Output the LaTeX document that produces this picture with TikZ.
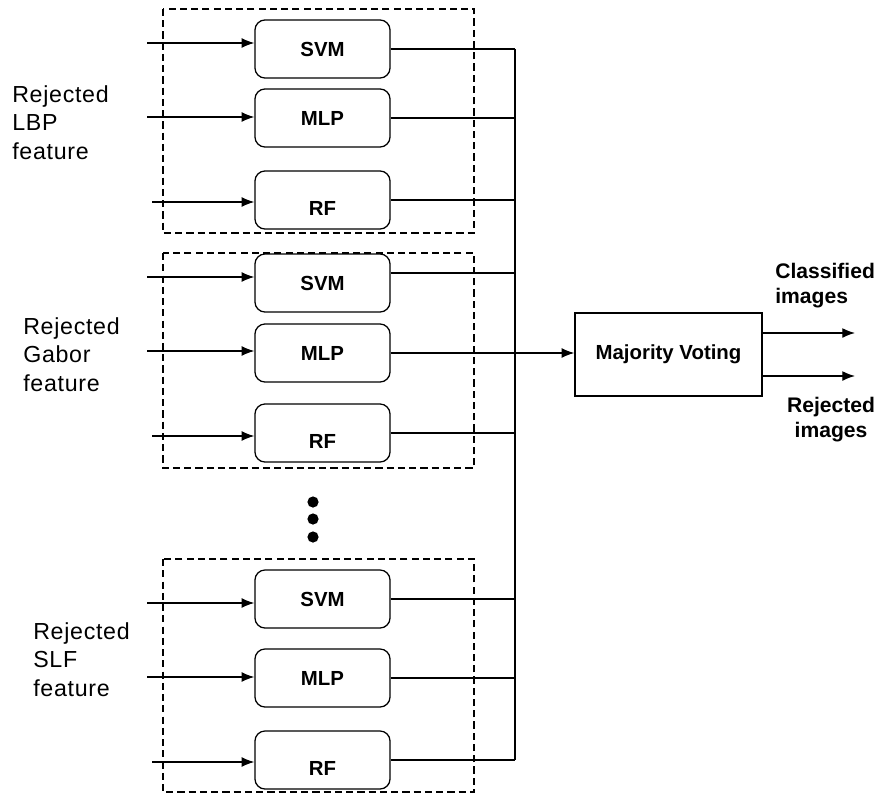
\documentclass[tikz,border=0pt]{standalone}
\usepackage{fontspec}
\setmainfont{Liberation Sans}
\usetikzlibrary{arrows.meta}

\tikzset{
  clf/.style={draw, rounded corners=0.25cm, line width=0.9pt, minimum width=3.375cm, minimum height=1.45cm, font=\bfseries\fontsize{14.5}{17}\selectfont},
  rfclf/.style={clf, text height=0.77cm},
  group/.style={draw, dash pattern=on 5pt off 3pt, line width=1.4pt},
  wire/.style={line width=0.9pt},
  feed/.style={wire, -{Latex[length=9pt,width=7pt]}},
  sidetext/.style={anchor=north west, inner sep=0pt, align=left, font=\fontsize{16.5}{20.5}\selectfont\addfontfeatures{LetterSpace=3}},
  outtext/.style={inner sep=0pt, font=\bfseries\fontsize{15}{17.5}\selectfont},
}

\begin{document}
\begin{tikzpicture}[x=0.025cm, y=-0.025cm]
			%%%%% START %%%%%
			\useasboundingbox (0,0) rectangle (881,795);
			\def\cx{322.5}
			\def\busx{515}
			\def\inx{147}
			\def\inrf{152}
			
			% dashed groups
			\draw[group] (163,9) rectangle (474,233);
			\draw[group] (163,253) rectangle (474,468);
			\draw[group] (163,559) rectangle (474,792);
			
			% classifiers
			\node[clf] (svmA) at (\cx,49) {SVM};
			\node[clf] (mlpA) at (\cx,118) {MLP};
			\node[rfclf] (rfA) at (\cx,200) {RF};
			
			\node[clf] (svmB) at (\cx,283) {SVM};
			\node[clf] (mlpB) at (\cx,353) {MLP};
			\node[rfclf] (rfB) at (\cx,433) {RF};
			
			\node[clf] (svmC) at (\cx,599) {SVM};
			\node[clf] (mlpC) at (\cx,678) {MLP};
			\node[rfclf] (rfC) at (\cx,760) {RF};
			
			% feature labels
			\node[sidetext] (lbp) at (12,85) {Rejected\\LBP\\feature};
			\node[sidetext] (gabor) at (23,317) {Rejected\\Gabor\\feature};
			\node[sidetext] (slf) at (33,622) {Rejected\\SLF\\feature};
			
			% inputs
			\coordinate (inA1) at (\inx,43);
			\coordinate (inA2) at (\inx,117);
			\coordinate (inA3) at (\inrf,202);
			\coordinate (inB1) at (\inx,277);
			\coordinate (inB2) at (\inx,351);
			\coordinate (inB3) at (\inrf,436);
			\coordinate (inC1) at (\inx,603);
			\coordinate (inC2) at (\inx,677);
			\coordinate (inC3) at (\inrf,762);
			\draw[feed] (inA1) -- (inA1 -| svmA.west);
			\draw[feed] (inA2) -- (inA2 -| mlpA.west);
			\draw[feed] (inA3) -- (inA3 -| rfA.west);
			\draw[feed] (inB1) -- (inB1 -| svmB.west);
			\draw[feed] (inB2) -- (inB2 -| mlpB.west);
			\draw[feed] (inB3) -- (inB3 -| rfB.west);
			\draw[feed] (inC1) -- (inC1 -| svmC.west);
			\draw[feed] (inC2) -- (inC2 -| mlpC.west);
			\draw[feed] (inC3) -- (inC3 -| rfC.west);
			
			% outputs to the bus
			\coordinate (bus) at (\busx,0);
			\draw[wire] (svmA.east) -- (svmA.east -| bus);
			\draw[wire] (mlpA.east) -- (mlpA.east -| bus);
			\draw[wire] (rfA.east) -- (rfA.east -| bus);
			\draw[wire] ([yshift=0.25cm]svmB.east) coordinate (svmBout) -- (svmBout -| bus);
			\draw[wire] (rfB.east) -- (rfB.east -| bus);
			\draw[wire] (svmC.east) -- (svmC.east -| bus);
			\draw[wire] (mlpC.east) -- (mlpC.east -| bus);
			\draw[wire] (rfC.east) -- (rfC.east -| bus);
			\draw[wire] (svmA.east -| bus) -- (rfC.east -| bus);
			
			% more groups
			\fill (313,502) circle (0.14cm);
			\fill (313,519) circle (0.14cm);
			\fill (313,537) circle (0.14cm);
			
			% voting
			\node[draw, line width=0.9pt, minimum width=4.675cm, minimum height=2.075cm, font=\bfseries\fontsize{14.5}{17}\selectfont] (vote) at (668.5,354.5) {Majority Voting};
			\draw[feed] (mlpB.east) -- (mlpB.east -| vote.west);
			
			\coordinate (clsEnd) at (855,333);
			\coordinate (rejEnd) at (855,376);
			\draw[feed] (vote.east |- clsEnd) -- (clsEnd);
			\draw[feed] (vote.east |- rejEnd) -- (rejEnd);
			
			\node[outtext, anchor=north west, align=left] (cls) at (775,263) {Classified\\images};
			\node[outtext, anchor=north, align=center] (rej) at (831,397) {Rejected\\images};
			%%%%% START %%%%%
\end{tikzpicture}
\end{document}
